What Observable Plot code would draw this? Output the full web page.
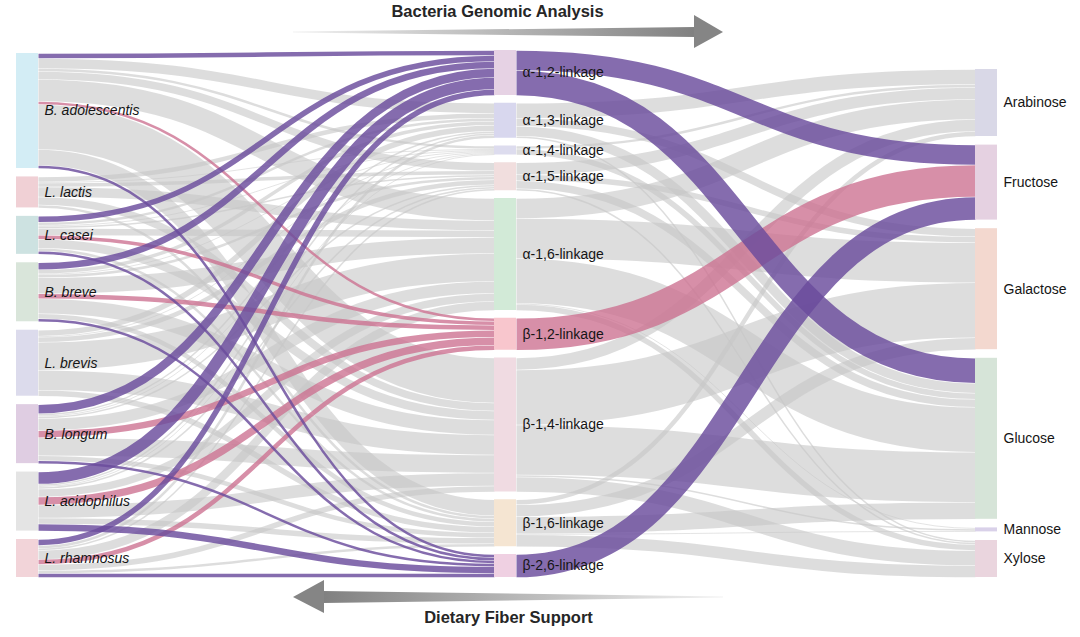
<!DOCTYPE html>
<html><head><meta charset="utf-8">
<script src="https://cdn.jsdelivr.net/npm/d3@7"></script>
<script src="https://cdn.jsdelivr.net/npm/@observablehq/plot@0.6"></script>
<style>body{margin:0;background:#fff} #chart{width:1080px;height:637px}</style>
</head><body><div id="chart"></div>
<script>
// ---------- data ----------
const bacteria = ["B. adolescentis","L. lactis","L. casei","B. breve","L. brevis","B. longum","L. acidophilus","L. rhamnosus"];
const linkages = ["α-1,2-linkage","α-1,3-linkage","α-1,4-linkage","α-1,5-linkage","α-1,6-linkage","β-1,2-linkage","β-1,4-linkage","β-1,6-linkage","β-2,6-linkage"];
const sugars = ["Arabinose","Fructose","Galactose","Glucose","Mannose","Xylose"];
// rows = bacteria, columns = linkages
const bacteriaToLinkage = [
  [5,10,3,8,22,3,45,16,3],
  [0,5,1,4,10,0,8,3,0],
  [6,3,1,2,7,4,9,3,3],
  [7,4,1,3,16,5,15,5,3],
  [0,6,1,5,28,0,20,6,0],
  [9,2,1,2,12,7,18,5,3],
  [12,2,1,2,8,8,13,6,7],
  [6,3,0,2,9,5,6,3,4]
];
// rows = linkages, columns = sugars
const linkageToSugar = [
  [0,20,0,25,0,0],
  [15,0,8,10,0,2],
  [3,0,0,6,0,0],
  [12,0,6,8,0,2],
  [20,0,40,45,1,6],
  [0,32,0,0,0,0],
  [12,0,55,50,2,15],
  [5,0,12,17,1,12],
  [0,23,0,0,0,0]
];
const highlighted = {"α-1,2-linkage":"purple","β-2,6-linkage":"purple","β-1,2-linkage":"pink"};
const bacteriaColors = ["#d3edf5","#f0d0d5","#cde2e1","#d9e5da","#dcdbec","#dfcde2","#e4e4e4","#f2d4d9"];
const linkageColors = ["#e6d2e4","#d8d7ee","#dddcee","#f1dede","#d2ead7","#f8c6cd","#f0dbe2","#f5e5d2","#efd0e2"];
const sugarColors = ["#d9d8e7","#e5d1e1","#f3d8cf","#d6e4d8","#d9d1e9","#ead5de"];
const titleTop = "Bacteria Genomic Analysis";
const titleBottom = "Dietary Fiber Support";

// ---------- layout ----------
const W = 1080, H = 637;
const colX = [16, 494, 975], nodeW = 22;
const colTop = [53, 50, 69], colBottom = 577;
const labelDx = 6;
const linkColor = {grey:"#c6c6c6", purple:"#6a4c9c", pink:"#cc6f8f"};
const linkOpacity = {grey:0.6, purple:0.82, pink:0.78};
const font = "'Liberation Sans', Arial, Helvetica, sans-serif";

const yDomain = [0, H], yRange = [0, H];
const ky = (yRange[1]-yRange[0])/(yDomain[1]-yDomain[0]);

function column(names, values, colors, c) {
  const sum = d3.sum(values);
  const pad = (colBottom - colTop[c] - sum*ky)/(names.length-1)/ky;
  let y = colTop[c];
  return names.map((n,i) => {
    const node = {name:n, value:values[i], fill:colors[i], col:c,
      x0:colX[c], x1:colX[c]+nodeW, y0:y, y1:y+values[i]};
    y += values[i] + pad;
    return node;
  });
}
const bVals = bacteriaToLinkage.map(r => d3.sum(r));
const lVals = linkages.map((_,j) => d3.sum(bacteriaToLinkage, r => r[j]));
const sVals = sugars.map((_,k) => d3.sum(linkageToSugar, r => r[k]));
const nodesB = column(bacteria, bVals, bacteriaColors, 0);
const nodesL = column(linkages, lVals, linkageColors, 1);
const nodesS = column(sugars, sVals, sugarColors, 2);

function makeLinks(matrix, src, tgt, kindOf) {
  const links = [];
  matrix.forEach((row,i) => row.forEach((v,j) => { if (v>0) links.push({s:i,t:j,value:v,kind:kindOf(i,j)}); }));
  src.forEach((n,i) => { let y=n.y0; links.filter(l=>l.s===i).sort((a,b)=>a.t-b.t).forEach(l=>{l.y1=y+l.value/2; y+=l.value;}); });
  tgt.forEach((n,j) => { let y=n.y0; links.filter(l=>l.t===j).sort((a,b)=>a.s-b.s).forEach(l=>{l.y2=y+l.value/2; y+=l.value;}); });
  links.forEach(l => { l.x1 = src[l.s].x1; l.x2 = tgt[l.t].x0; });
  return links;
}
const links1 = makeLinks(bacteriaToLinkage, nodesB, nodesL, (i,j) => highlighted[linkages[j]] || "grey");
const links2 = makeLinks(linkageToSugar, nodesL, nodesS, (i,j) => highlighted[linkages[i]] || "grey");
const allLinks = links1.concat(links2);

function linkMark(kind) {
  return Plot.link(allLinks.filter(l => l.kind===kind), {
    x1:"x1", y1:"y1", x2:"x2", y2:"y2", curve:"bump-x",
    stroke: linkColor[kind], strokeOpacity: linkOpacity[kind],
    strokeWidth: d => Math.max(0.8, d.value*ky - 0.5)
  });
}
const allNodes = nodesB.concat(nodesL, nodesS);
const labelMark = (nodes, italic) => Plot.text(nodes, {
  x: d => d.x1 + labelDx, y: d => (d.y0+d.y1)/2, text: "name",
  textAnchor: "start", fontSize: 14, fontStyle: italic ? "italic" : "normal",
  fill: "#151515", fontFamily: font
});

const plot = Plot.plot({
  width: W, height: H, margin: 0,
  x: {domain:[0,W], range:[0,W], axis:null},
  y: {domain:yDomain, range:yRange, axis:null},
  color: {type:"identity"},
  style: {fontFamily: font, background:"#fff"},
  marks: [
    linkMark("grey"),
    linkMark("pink"),
    linkMark("purple"),
    Plot.rect(allNodes, {x1:"x0", x2:"x1", y1:"y0", y2:"y1", fill:"fill"}),
    labelMark(nodesB, true),
    labelMark(nodesL, false),
    labelMark(nodesS, false),
    Plot.text([titleTop], {x: 497, y: 11, text: d=>d, fontSize: 16.5, fontWeight: "bold", fill:"#262626", fontFamily: font}),
    Plot.text([titleBottom], {x: 508, y: 617, text: d=>d, fontSize: 16.5, fontWeight: "bold", fill:"#262626", fontFamily: font})
  ]
});
document.getElementById("chart").appendChild(plot);

// ---------- decorative arrows ----------
const svg = d3.select(plot);
const defs = svg.insert("defs", ":first-child");
const g1 = defs.append("linearGradient").attr("id","gradR").attr("gradientUnits","userSpaceOnUse")
  .attr("x1",293).attr("x2",700).attr("y1",0).attr("y2",0);
g1.append("stop").attr("offset","0").attr("stop-color","#f2f2f2");
g1.append("stop").attr("offset","1").attr("stop-color","#7f7f7f");
const g2 = defs.append("linearGradient").attr("id","gradL").attr("gradientUnits","userSpaceOnUse")
  .attr("x1",723).attr("x2",318).attr("y1",0).attr("y2",0);
g2.append("stop").attr("offset","0").attr("stop-color","#f2f2f2");
g2.append("stop").attr("offset","1").attr("stop-color","#7f7f7f");
const arrows = svg.append("g");
arrows.append("polygon").attr("fill","url(#gradR)")
  .attr("points","293,31.6 695,27 695,37 293,32.6");
arrows.append("polygon").attr("fill","#858585")
  .attr("points","694,15 723,32 694,48");
arrows.append("polygon").attr("fill","url(#gradL)")
  .attr("points","723,596.6 323,591 323,603 723,597.6");
arrows.append("polygon").attr("fill","#858585")
  .attr("points","324,580 293,597 324,613");
</script>
</body></html>
